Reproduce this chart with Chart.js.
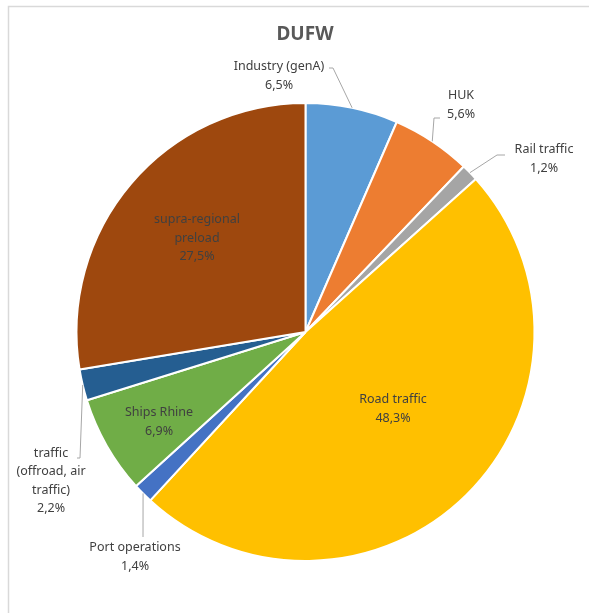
<!DOCTYPE html>
<html>
<head>
<meta charset="utf-8">
<script src="https://cdn.jsdelivr.net/npm/chart.js@4/dist/chart.umd.min.js"></script>
<style>
  html, body { margin: 0; padding: 0; background: #fff; }
  #wrap { width: 589px; height: 613px; }
</style>
</head>
<body>
<div id="wrap"><canvas id="graficoDUFW" width="589" height="613"></canvas></div>
<script>
// dados
const categorias = ['Industry (genA)', 'HUK', 'Rail traffic', 'Road traffic', 'Port operations', 'Ships Rhine', 'traffic (offroad, air traffic)', 'supra-regional preload'];
const valores = [6.5, 5.6, 1.2, 48.3, 1.4, 6.9, 2.2, 27.5];
const cores = ['#5B9BD5', '#ED7D31', '#A5A5A5', '#FFC000', '#4472C4', '#70AD47', '#255E91', '#9E480E'];

// posicao dos rotulos (linhas de texto, centro do bloco, cotovelo da linha guia)
const rotulos = [
    { linhas: ['Industry (genA)'], x: 279, y: 76, guia: [[333, 68], [329, 68]] },
    { linhas: ['HUK'], x: 461, y: 105, guia: [[434, 118], [440, 118]] },
    { linhas: ['Rail traffic'], x: 544, y: 159, guia: [[497, 155], [505, 155]] },
    { linhas: ['Road traffic'], x: 393, y: 409 },
    { linhas: ['Port operations'], x: 135, y: 557, guia: [[143, 537]] },
    { linhas: ['Ships Rhine'], x: 159, y: 422 },
    { linhas: ['traffic', '(offroad, air', 'traffic)'], x: 51, y: 481, guia: [[80, 458], [77, 458]] },
    { linhas: ['supra-regional', 'preload'], x: 197, y: 238 }
];

function fmt(v) { return v.toFixed(1).replace('.', ',') + '%'; }

const rotulosPlugin = {
    id: 'rotulos',
    beforeDraw(chart) {
        const ctx = chart.ctx;
        ctx.save();
        ctx.strokeStyle = '#D9D9D9';
        ctx.lineWidth = 1.5;
        ctx.strokeRect(8.5, 6.5, 700, 700);
        ctx.fillStyle = '#595959';
        ctx.font = 'bold 19px "Noto Sans", sans-serif';
        ctx.textAlign = 'center';
        ctx.textBaseline = 'middle';
        ctx.fillText('DUFW', 305, 35);
        ctx.restore();
    },
    afterDatasetsDraw(chart) {
        const ctx = chart.ctx;
        const arcs = chart.getDatasetMeta(0).data;
        ctx.save();
        arcs.forEach((arc, i) => {
            const r = rotulos[i];
            if (r.guia) {
                const p = arc.getProps(['x', 'y', 'startAngle', 'endAngle', 'outerRadius'], true);
                const meio = (p.startAngle + p.endAngle) / 2;
                ctx.beginPath();
                ctx.strokeStyle = '#A6A6A6';
                ctx.lineWidth = 1;
                ctx.moveTo(p.x + Math.cos(meio) * p.outerRadius, p.y + Math.sin(meio) * p.outerRadius);
                r.guia.forEach(pt => ctx.lineTo(pt[0], pt[1]));
                ctx.stroke();
            }
            const linhas = r.linhas.concat([fmt(valores[i])]);
            const lh = 18.5;
            const y0 = r.y - (linhas.length - 1) * lh / 2;
            ctx.fillStyle = '#404040';
            ctx.font = '12.5px "Noto Sans", sans-serif';
            ctx.textAlign = 'center';
            ctx.textBaseline = 'middle';
            linhas.forEach((t, k) => ctx.fillText(t, r.x, y0 + k * lh));
        });
        ctx.restore();
    }
};

const ctx = document.getElementById('graficoDUFW').getContext('2d');
window.graficoDUFW = new Chart(ctx, {
    type: 'pie',
    data: {
        labels: categorias,
        datasets: [{
            data: valores,
            backgroundColor: cores,
            borderColor: '#FFFFFF',
            borderWidth: 2
        }]
    },
    options: {
        responsive: false,
        animation: false,
        layout: { padding: { left: 75, right: 53, top: 102, bottom: 51 } },
        plugins: {
            legend: { display: false },
            tooltip: { enabled: false },
            title: { display: false }
        }
    },
    plugins: [rotulosPlugin]
});
</script>
</body>
</html>
